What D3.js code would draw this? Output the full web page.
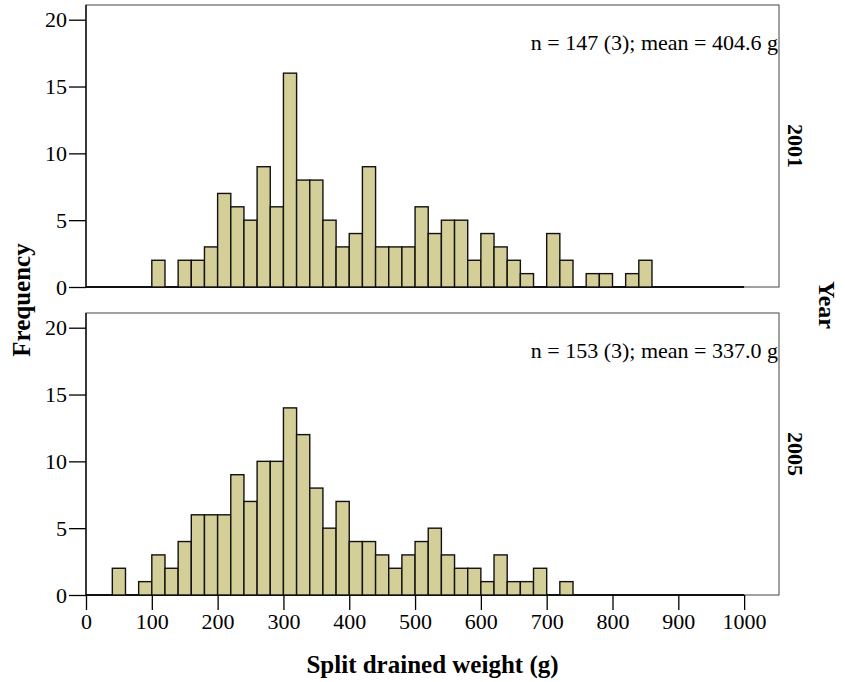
<!DOCTYPE html>
<html>
<head>
<meta charset="utf-8">
<script src="https://cdn.jsdelivr.net/npm/d3@7"></script>
<style>
  body { margin: 0; background: #fff; }
  text { font-family: "Liberation Serif", "Times New Roman", serif; fill: #000; }
</style>
</head>
<body>
<div id="main"></div>
<script>
// bins of 20 g, lower edges 0..980
const binEdges = d3.range(0, 1000, 20);
const years = ['2001', '2005'];
const counts2001 = [0,0,0,0,0,2,0,2,2,3, 7,6,5,9,6,16,8,8,5,3, 4,9,3,3,3,6,4,5,5,2, 4,3,2,1,0,4,2,0,1,1, 0,1,2,0,0,0,0,0,0,0];
const counts2005 = [0,0,2,0,1,3,2,4,6,6, 6,9,7,10,10,14,12,8,5,7, 4,4,3,2,3,4,5,3,2,2, 1,3,1,1,2,0,1,0,0,0, 0,0,0,0,0,0,0,0,0,0];
const notes = ['n = 147 (3); mean = 404.6 g', 'n = 153 (3); mean = 337.0 g'];
const xTicks = d3.range(0, 1001, 100);
const yTicks = [0, 5, 10, 15, 20];

const W = 845, H = 682;
const left = 86, right = 779;
const panels = [{top: 5, bottom: 287}, {top: 313, bottom: 595}];
const binW = 20;

const svg = d3.select('#main').append('svg')
  .attr('width', W).attr('height', H);

const x = d3.scaleLinear().domain([0, 1053]).range([left, right]);

const series = [counts2001, counts2005];

panels.forEach((p, k) => {
  const y = d3.scaleLinear().domain([0, 21.1]).range([p.bottom, p.top]);
  const g = svg.append('g');

  // frame
  g.append('rect')
    .attr('x', left).attr('y', p.top)
    .attr('width', right - left).attr('height', p.bottom - p.top)
    .attr('fill', 'none').attr('stroke', '#444').attr('stroke-width', 1);

  // baseline under the histogram range (zero bins show as a line)
  g.append('line')
    .attr('x1', x(0)).attr('x2', x(binEdges[binEdges.length - 1] + binW))
    .attr('y1', y(0)).attr('y2', y(0))
    .attr('stroke', '#111').attr('stroke-width', 1.8);

  const data = binEdges.map((b, i) => ({x0: b, n: series[k][i]})).filter(d => d.n > 0);
  g.selectAll('.bar')
    .data(data)
  .enter().append('rect')
    .attr('class', 'bar')
    .attr('x', d => x(d.x0))
    .attr('width', d => x(d.x0 + binW) - x(d.x0))
    .attr('y', d => y(d.n))
    .attr('height', d => y(0) - y(d.n))
    .attr('fill', '#d4cf98')
    .attr('stroke', '#111')
    .attr('stroke-width', 1.4);

  // y axis
  const ya = g.append('g')
    .attr('transform', 'translate(' + left + ',0)')
    .call(d3.axisLeft(y).tickValues(yTicks).tickSize(17).tickPadding(2).tickSizeOuter(0));
  ya.select('.domain').attr('stroke', '#000').attr('stroke-width', 1.3)
    .attr('d', 'M0,' + p.top + 'V' + p.bottom);
  ya.selectAll('.tick line').attr('stroke-width', 1.3);
  ya.selectAll('text').style('font-size', '22px').style('font-family', '"Liberation Serif", serif');

  // note
  g.append('text')
    .attr('x', right - 1).attr('y', p.top + 45)
    .attr('text-anchor', 'end')
    .style('font-size', '22px')
    .text(notes[k]);

  // year label
  g.append('text')
    .attr('transform', 'translate(' + (right + 9) + ',' + ((p.top + p.bottom) / 2) + ') rotate(90)')
    .attr('text-anchor', 'middle')
    .style('font-size', '22px').style('font-weight', 'bold')
    .text(years[k]);

  if (k === 1) {
    const xa = g.append('g')
      .attr('transform', 'translate(0,' + p.bottom + ')')
      .call(d3.axisBottom(x).tickValues(xTicks).tickFormat(d3.format('d'))
        .tickSize(15).tickPadding(3).tickSizeOuter(0));
    xa.select('.domain').remove();
    xa.selectAll('.tick line').attr('stroke-width', 1.3);
    xa.selectAll('text').style('font-size', '22px').style('font-family', '"Liberation Serif", serif');
  }
});

svg.append('text')
  .attr('x', (left + right) / 2).attr('y', 673)
  .attr('text-anchor', 'middle')
  .style('font-size', '25px').style('font-weight', 'bold')
  .text('Split drained weight (g)');

svg.append('text')
  .attr('transform', 'translate(30,300) rotate(-90)')
  .attr('text-anchor', 'middle')
  .style('font-size', '25px').style('font-weight', 'bold')
  .text('Frequency');

svg.append('text')
  .attr('transform', 'translate(819,305) rotate(90)')
  .attr('text-anchor', 'middle')
  .style('font-size', '24px').style('font-weight', 'bold')
  .text('Year');
</script>
</body>
</html>
